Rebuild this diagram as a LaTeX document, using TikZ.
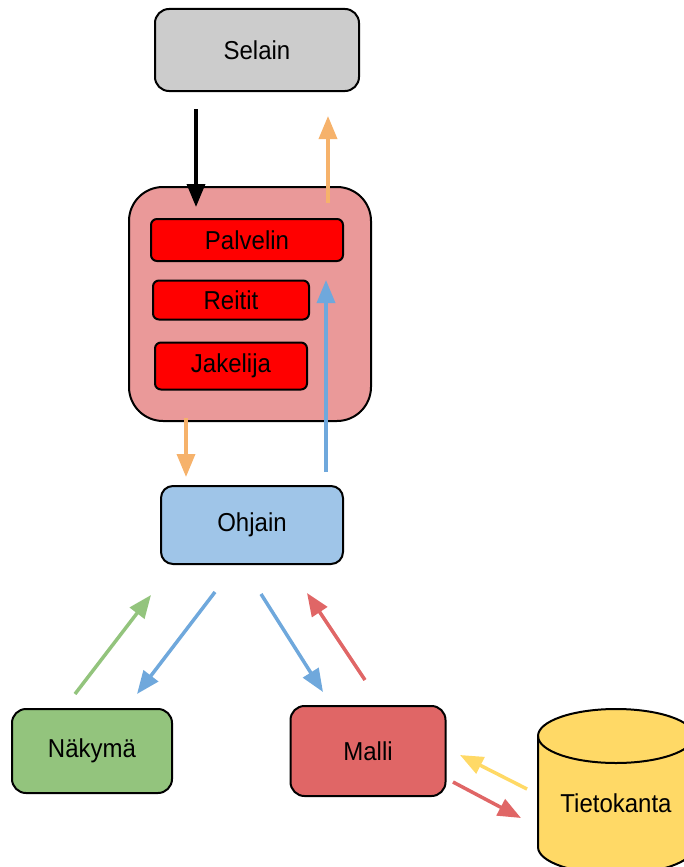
\documentclass[tikz,border=0pt]{standalone}
\usepackage{fontspec}
\usepackage{graphicx}
\setmainfont{Liberation Sans}
\usetikzlibrary{arrows.meta}
\definecolor{cGray}{HTML}{CCCCCC}
\definecolor{cServer}{HTML}{EA9999}
\definecolor{cInner}{HTML}{FF0000}
\definecolor{cCtrl}{HTML}{9FC5E8}
\definecolor{cView}{HTML}{93C47D}
\definecolor{cModel}{HTML}{E06666}
\definecolor{cDb}{HTML}{FFD966}
\definecolor{aOrange}{HTML}{F6B26B}
\definecolor{aBlue}{HTML}{6FA8DC}
\definecolor{aGreen}{HTML}{93C47D}
\definecolor{aRed}{HTML}{E06666}
\definecolor{aYellow}{HTML}{FFD966}
% labels are set slightly tall
\newcommand{\lbl}[1]{\scalebox{1}[1.08]{#1}}
\begin{document}
\begin{tikzpicture}[x=1pt,y=-1pt,
  box/.style={draw=black, line width=2pt, rounded corners=#1, inner sep=0pt,
    font=\fontsize{24}{27}\selectfont, text=black},
  flow/.style={line width=3.5pt, draw=#1, -{Triangle[width=18pt,length=23pt]}}]
\clip (0,0) rectangle (684,867);

% browser
\node[box=14pt, fill=cGray, minimum width=204pt, minimum height=82pt] (selain) at (257,50) {\lbl{Selain}};

% server block with its parts
\node[box=34pt, fill=cServer, minimum width=242pt, minimum height=234pt] (server) at (250,304) {};
\node[box=6pt, fill=cInner, minimum width=192pt, minimum height=42pt] (palvelin) at (247,240) {\lbl{Palvelin}};
\node[box=6pt, fill=cInner, minimum width=156pt, minimum height=39pt] (reitit) at (231,300) {\lbl{Reitit}};
\node[box=6pt, fill=cInner, minimum width=152pt, minimum height=47pt] (jakelija) at (231,366) {\lbl{Jakelija}};

% controller, view, model
\node[box=12pt, fill=cCtrl, minimum width=182pt, minimum height=78pt] (ohjain) at (252,525) {\lbl{Ohjain}};
\node[box=14pt, fill=cView, minimum width=160pt, minimum height=84pt] (nakyma) at (92,751) {\lbl{Näkymä}};
\node[box=14pt, fill=cModel, minimum width=155pt, minimum height=90pt] (malli) at (368,751) {\lbl{Malli}};

% database cylinder
\filldraw[fill=cDb, draw=black, line width=2pt]
  (538,736) -- (538,847) arc[start angle=180, end angle=360, x radius=78, y radius=-27]
  -- (694,736) arc[start angle=0, end angle=180, x radius=78, y radius=-27] -- cycle;
\draw[line width=2pt] (538,736) arc[start angle=180, end angle=360, x radius=78, y radius=-27];
\node[font=\fontsize{24}{27}\selectfont] (tietokanta) at (616,803) {\lbl{Tietokanta}};

% arrow end points
\coordinate (b1) at (196,109); \coordinate (b2) at (196,207);
\coordinate (o1) at (328,203); \coordinate (o2) at (328,116);
\coordinate (o3) at (186,418); \coordinate (o4) at (186,477);
\coordinate (u1) at (326,472); \coordinate (u2) at (326,280);
\coordinate (g1) at (75,694);  \coordinate (g2) at (151,595);
\coordinate (l1) at (215,592); \coordinate (l2) at (137,694);
\coordinate (r1) at (261,594); \coordinate (r2) at (323,692);
\coordinate (m1) at (365,680); \coordinate (m2) at (307,593);
\coordinate (y1) at (527,789); \coordinate (y2) at (460,755);
\coordinate (d1) at (453,782); \coordinate (d2) at (521,818);

\draw[flow=black] (b1) -- (b2);
\draw[flow=aOrange] (o1) -- (o2);
\draw[flow=aOrange] (o3) -- (o4);
\draw[flow=aBlue] (u1) -- (u2);
\draw[flow=aGreen] (g1) -- (g2);
\draw[flow=aBlue] (l1) -- (l2);
\draw[flow=aBlue] (r1) -- (r2);
\draw[flow=aRed] (m1) -- (m2);
\draw[flow=aYellow] (y1) -- (y2);
\draw[flow=aRed] (d1) -- (d2);
\end{tikzpicture}
\end{document}
